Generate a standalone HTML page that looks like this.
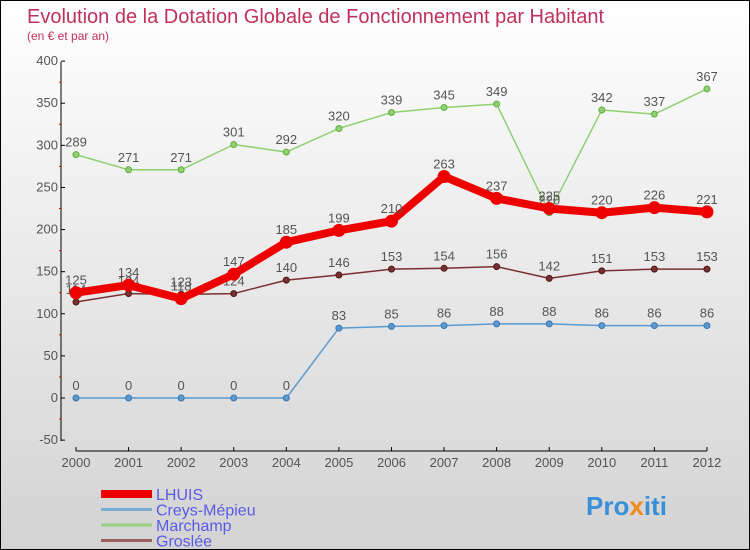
<!DOCTYPE html>
<html><head><meta charset="utf-8"><style>
body{margin:0}
#c{width:750px;height:550px;position:relative;box-sizing:border-box;border:1px solid #000;background:linear-gradient(#fff,#d3d3d3);font-family:"Liberation Sans",sans-serif;overflow:hidden}
svg text{font-family:"Liberation Sans",sans-serif}
</style></head><body>
<div id="c">
<svg id="s" width="750" height="550">
<text x="26" y="22" font-size="20" fill="#c0305a">Evolution de la Dotation Globale de Fonctionnement par Habitant</text>
<text x="26" y="39" font-size="12" fill="#c0305a">(en € et par an)</text>
<text x="585" y="514" font-size="26" font-weight="bold" fill="#3a8fd8">Pro<tspan fill="#f08a1a">x</tspan>iti</text>
</svg>
</div>
<script>
const years=[2000,2001,2002,2003,2004,2005,2006,2007,2008,2009,2010,2011,2012];
const lhuis=[125,134,118,147,185,199,210,263,237,225,220,226,221];
const creys=[0,0,0,0,0,83,85,86,88,88,86,86,86];
const marchamp=[289,271,271,301,292,320,339,345,349,220,342,337,367];
const groslee=[114,124,123,124,140,146,153,154,156,142,151,153,153];
const yTicks=[-50,0,50,100,150,200,250,300,350,400];
const NS="http://www.w3.org/2000/svg";
const s=document.getElementById('s');
const X=i=>75+i*52.58;
const Y=v=>397-v*0.8422;
function el(t,a){const e=document.createElementNS(NS,t);for(const k in a)e.setAttribute(k,a[k]);s.appendChild(e);return e;}
let ax=el('line',{x1:60,y1:61,x2:60,y2:440,stroke:'#000'});

let ax2=el('line',{x1:75,y1:450,x2:706,y2:450,stroke:'#000'});

yTicks.forEach(v=>{
 el('line',{x1:60,y1:Y(v),x2:64,y2:Y(v),stroke:'#000'});
 if(v<400)el('line',{x1:58,y1:Y(v+25),x2:60,y2:Y(v+25),stroke:'#d00'});
 const t=el('text',{x:57,y:Y(v)+4,'font-size':13,fill:'#555','text-anchor':'end'});t.textContent=v;
 
});
years.forEach((y,i)=>{
 el('line',{x1:X(i),y1:446,x2:X(i),y2:450,stroke:'#000'});
 const t=el('text',{x:X(i),y:466,'font-size':13,fill:'#555','text-anchor':'middle'});t.textContent=y;
 
});
function series(d,color,w,r,name,dark){
 const p=el('polyline',{points:d.map((v,i)=>X(i)+','+Y(v)).join(' '),fill:'none',stroke:color,'stroke-width':w,'stroke-linejoin':'round'});
 
 d.forEach((v,i)=>{
  const c=el('circle',{cx:X(i),cy:Y(v),r:r,fill:color,stroke:dark,'stroke-width':1});
  
  const t=el('text',{x:X(i),y:Y(v)-8,'font-size':13,fill:'#555','text-anchor':'middle'});t.textContent=v;
  
 });
}
series(creys,'#5a9ad0',1.5,3,'creys','#3a78b0');
series(marchamp,'#90d070',1.5,3,'marchamp','#60b040');
series(groslee,'#7a3030',1.5,3,'groslee','#501818');
series(lhuis,'#ee0000',8,6,'lhuis','#ee0000');
const leg=[['LHUIS','#ee0000',8],['Creys-Mépieu','#7aaed0',3],['Marchamp','#98d080',3],['Groslée','#9a6060',3]];
leg.forEach((l,i)=>{
 const y=493+i*15.5;
 const ln=el('line',{x1:100,y1:y,x2:151,y2:y,stroke:l[1],'stroke-width':l[2]});
 
 const t=el('text',{x:155,y:y+6,'font-size':16,fill:'#5a5ae8'});t.textContent=l[0];
 
});
</script>
</body></html>
